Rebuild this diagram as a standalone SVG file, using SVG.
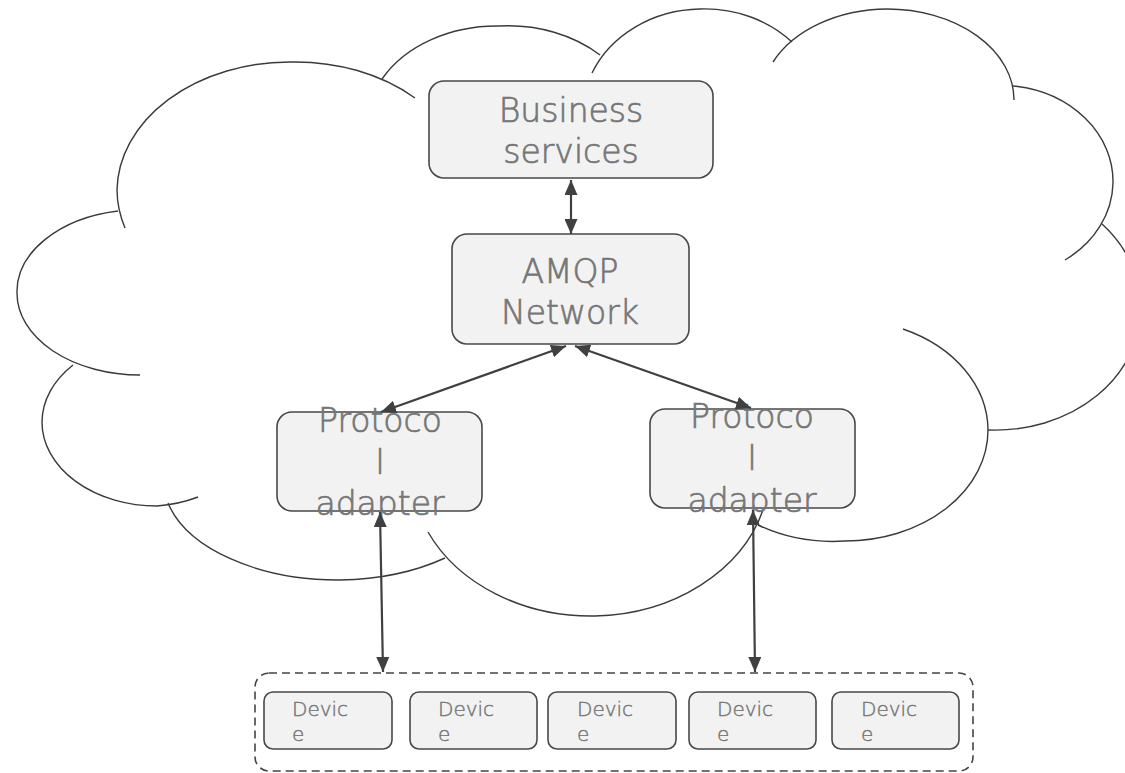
<svg xmlns="http://www.w3.org/2000/svg" width="1125" height="773" viewBox="0 0 1125 773">
  <defs>
    <marker id="head" viewBox="0 0 15 13" refX="15" refY="6.5" markerWidth="15" markerHeight="13" markerUnits="userSpaceOnUse" orient="auto-start-reverse">
      <path d="M0,0 L15,6.5 L0,13 Z" fill="#404040"/>
    </marker>
    <style>
      .cloud { fill: none; stroke: #3a3a3a; stroke-width: 1.4; }
      .box { fill: #f2f2f2; stroke: #484848; stroke-width: 1.6; }
      .big { font-family: "DejaVu Sans", "Liberation Sans", sans-serif; font-weight: 300; font-size: 33px; fill: #767676; stroke: #767676; stroke-width: 0.7; text-anchor: middle; }
      .small { font-family: "DejaVu Sans", "Liberation Sans", sans-serif; font-weight: 300; font-size: 20px; fill: #767676; stroke: #767676; stroke-width: 0.45; }
      .link { stroke: #404040; stroke-width: 2.2; fill: none; marker-start: url(#head); marker-end: url(#head); }
      .group { fill: none; stroke: #444444; stroke-width: 1.6; stroke-dasharray: 8 5; }
    </style>
  </defs>

  <rect x="0" y="0" width="1125" height="773" fill="#ffffff"/>

  <!-- cloud outline, built from overlapping elliptical bumps -->
  <g id="cloud">
    <path class="cloud" d="M125,228 A173 130 0 0 1 117,190 A173 130 0 0 1 290,62 A173 130 0 0 1 415,98"/>
    <path class="cloud" d="M382,79 A130 100 0 0 1 500,26 A130 100 0 0 1 600,55"/>
    <path class="cloud" d="M592,73 A120 105 0 0 1 700,9 A120 105 0 0 1 792,42"/>
    <path class="cloud" d="M773,62 A127 91 0 0 1 887,9 A127 91 0 0 1 1014,100"/>
    <path class="cloud" d="M1013,86 A113 96 0 0 1 1113,183 A113 96 0 0 1 1065,260"/>
    <path class="cloud" d="M1102,224 A145 120 0 0 1 1140,305 A145 120 0 0 1 988,430"/>
    <path class="cloud" d="M903,329 A143 111 0 0 1 988,430 A143 111 0 0 1 845,541 A143 111 0 0 1 758,525"/>
    <path class="cloud" d="M763,510 A180 146 0 0 1 595,616 A180 146 0 0 1 428,532"/>
    <path class="cloud" d="M168,503 A175 100 0 0 0 340,580 A175 100 0 0 0 445,558"/>
    <path class="cloud" d="M73,365 A115 84 0 0 0 42,422 A115 84 0 0 0 157,506 A115 84 0 0 0 198,497"/>
    <path class="cloud" d="M118,211 A123 82 0 0 0 17,293 A123 82 0 0 0 140,375"/>
  </g>

  <g id="business-services">
    <rect class="box" x="429" y="81" width="284" height="97" rx="15"/>
    <text class="big" x="571" y="122">Business</text>
    <text class="big" x="571" y="163">services</text>
  </g>

  <g id="amqp-network">
    <rect class="box" x="452" y="234" width="237" height="110" rx="15"/>
    <text class="big" x="570" y="283">AMQP</text>
    <text class="big" x="570" y="324">Network</text>
  </g>

  <g id="protocol-adapter-left">
    <rect class="box" x="277" y="412" width="205" height="99" rx="15"/>
    <text class="big" x="380" y="432">Protoco</text>
    <text class="big" x="380" y="474">l</text>
    <text class="big" x="380" y="515">adapter</text>
  </g>

  <g id="protocol-adapter-right">
    <rect class="box" x="650" y="409" width="205" height="99" rx="15"/>
    <text class="big" x="752" y="428">Protoco</text>
    <text class="big" x="752" y="470">l</text>
    <text class="big" x="752" y="512">adapter</text>
  </g>

  <g id="devices">
    <rect class="group" x="255" y="673" width="718" height="98" rx="14"/>
    <g id="device-1">
      <rect class="box" x="264" y="692" width="128" height="57" rx="9"/>
      <text class="small" x="292" y="716">Devic</text>
      <text class="small" x="292" y="741">e</text>
    </g>
    <g id="device-2">
      <rect class="box" x="410" y="692" width="127" height="57" rx="9"/>
      <text class="small" x="438" y="716">Devic</text>
      <text class="small" x="438" y="741">e</text>
    </g>
    <g id="device-3">
      <rect class="box" x="548" y="692" width="128" height="57" rx="9"/>
      <text class="small" x="577" y="716">Devic</text>
      <text class="small" x="577" y="741">e</text>
    </g>
    <g id="device-4">
      <rect class="box" x="689" y="692" width="127" height="57" rx="9"/>
      <text class="small" x="717" y="716">Devic</text>
      <text class="small" x="717" y="741">e</text>
    </g>
    <g id="device-5">
      <rect class="box" x="832" y="692" width="127" height="57" rx="9"/>
      <text class="small" x="861" y="716">Devic</text>
      <text class="small" x="861" y="741">e</text>
    </g>
  </g>

  <g id="connectors">
    <line class="link" x1="571" y1="180" x2="571" y2="234"/>
    <line class="link" x1="566" y1="346" x2="381" y2="412"/>
    <line class="link" x1="575" y1="346" x2="751" y2="408"/>
    <line class="link" x1="380" y1="512" x2="383" y2="672"/>
    <line class="link" x1="753" y1="510" x2="755" y2="672"/>
  </g>
</svg>
